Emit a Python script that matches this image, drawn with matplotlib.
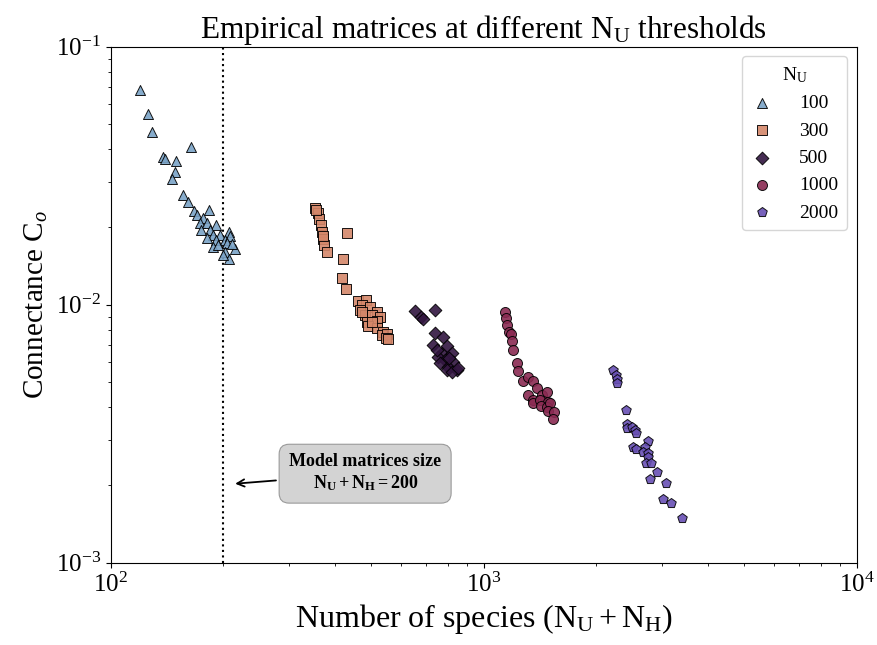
import matplotlib
matplotlib.use("Agg")
import matplotlib.pyplot as plt

plt.rcParams["font.family"] = ["Liberation Serif", "DejaVu Serif"]
plt.rcParams["mathtext.fontset"] = "custom"
plt.rcParams["mathtext.rm"] = "Liberation Serif"
plt.rcParams["mathtext.it"] = "Liberation Serif:italic"
plt.rcParams["mathtext.bf"] = "Liberation Serif:bold"

# N_U = 100
n100 = [120, 126, 129, 138, 140, 150, 164, 149, 146, 156, 161, 167, 170, 183, 177,
        173.5, 181, 192, 175, 185, 188, 196, 207, 181, 192, 202, 209, 188, 205, 215,
        202, 207, 200, 194, 211]
c100 = [0.068, 0.0547, 0.0468, 0.0375, 0.0366, 0.0362, 0.0407, 0.0328, 0.0307, 0.0266,
        0.0250, 0.0231, 0.0223, 0.0233, 0.0216, 0.0207, 0.0207, 0.0204, 0.0195, 0.0195,
        0.0186, 0.0186, 0.0192, 0.0181, 0.0178, 0.0178, 0.0184, 0.0168, 0.0173, 0.0164,
        0.0160, 0.0151, 0.0156, 0.0170, 0.0172]
# N_U = 300
n300 = [353, 360, 362, 366, 368, 370, 373, 379, 431, 419, 416, 427, 461, 483, 471,
        466, 496, 517, 481, 501, 527, 486, 518, 490, 517, 538, 533, 551, 547, 555,
        472, 502, 355, 371]
c300 = [0.0236, 0.0226, 0.0214, 0.0204, 0.0192, 0.0179, 0.0170, 0.0160, 0.0189, 0.0151,
        0.0127, 0.0115, 0.0103, 0.0104, 0.00998, 0.00954, 0.00982, 0.00939, 0.00912,
        0.00912, 0.00898, 0.00859, 0.00867, 0.00827, 0.0081, 0.00786, 0.00763, 0.00768,
        0.00741, 0.00734, 0.00937, 0.00857, 0.0233, 0.0185]
# N_U = 500
n500 = [654, 678, 686, 740, 740, 779, 733, 772, 796, 821, 756, 788, 829, 764, 804,
        847, 796, 821, 855, 750, 807]
c500 = [0.00948, 0.00898, 0.00878, 0.00954, 0.00779, 0.00747, 0.00698, 0.00648, 0.00692,
        0.00648, 0.00629, 0.0061, 0.00601, 0.00593, 0.00575, 0.00558, 0.00558, 0.0055,
        0.00567, 0.00668, 0.00621]
# N_U = 1000
n1000 = [1141, 1146, 1153, 1171, 1182, 1193, 1201, 1231, 1236, 1272, 1312, 1358, 1387,
         1317, 1358, 1353, 1431, 1481, 1416, 1490, 1422, 1475, 1506, 1490, 1544, 1537]
c1000 = [0.00939, 0.00886, 0.00834, 0.00786, 0.0077, 0.00725, 0.00668, 0.00596, 0.00555,
         0.00507, 0.00523, 0.00505, 0.00474, 0.00447, 0.00427, 0.00415, 0.00447, 0.0046,
         0.00427, 0.00421, 0.00405, 0.00402, 0.00415, 0.00388, 0.00385, 0.0036]
# N_U = 2000
n2000 = [2217, 2263, 2281, 2273, 2403, 2417, 2427, 2494, 2545, 2561, 2753, 2509, 2561,
         2707, 2679, 2763, 2763, 2719, 2804, 2909, 2792, 3076, 3030, 3171, 3395]
c2000 = [0.00558, 0.00534, 0.00514, 0.00496, 0.00391, 0.00345, 0.00332, 0.00337, 0.00327,
         0.00318, 0.00297, 0.0028, 0.00276, 0.00282, 0.00269, 0.00267, 0.00256, 0.00244,
         0.00243, 0.00224, 0.00211, 0.00204, 0.00176, 0.0017, 0.00149]

series = [("100", n100, c100, "^", "#7aa3c7"),
          ("300", n300, c300, "s", "#d4876a"),
          ("500", n500, c500, "D", "#321640"),
          ("1000", n1000, c1000, "o", "#8a2a52"),
          ("2000", n2000, c2000, "p", "#6850b4")]

fig = plt.figure(figsize=(8.77, 6.45), dpi=100)
ax = fig.add_axes([0.1262, 0.1276, 0.8507, 0.80])

for lab, x, y, m, col in series:
    ms = 42 if m == "D" else 52
    ax.scatter(x, y, marker=m, s=ms, c=col, edgecolors="black", linewidths=0.7,
               alpha=0.9, label=lab, zorder=3)

ax.axvline(200, color="black", ls=":", lw=1.5, zorder=2)

ax.annotate("Model matrices size\n" + r"$\mathbf{N_U + N_H = 200}$",
            xy=(212, 0.00202), xytext=(481, 0.00222), ha="center", va="center",
            fontsize=13, fontweight="bold",
            bbox=dict(boxstyle="round,pad=0.55", fc="#d3d3d3", ec="#9a9a9a", lw=0.8),
            arrowprops=dict(arrowstyle="->", color="black", lw=1.3))

ax.set_xscale("log")
ax.set_yscale("log")
ax.set_xlim(1e2, 1e4)
ax.set_ylim(1e-3, 1e-1)
ax.tick_params(labelsize=18)
ax.set_xlabel(r"Number of species ($\mathrm{N_U + N_H}$)", fontsize=23)
ax.set_ylabel(r"Connectance $\mathrm{C}_o$", fontsize=21)
ax.set_title(r"Empirical matrices at different $\mathrm{N_U}$ thresholds", fontsize=22.5)

leg = ax.legend(title=r"$\mathrm{N_U}$", loc="upper right", fontsize=14,
                title_fontsize=14, handletextpad=1.3, handlelength=1.2,
                borderpad=0.45, labelspacing=0.5, scatterpoints=1)
leg.get_frame().set_edgecolor("#cccccc")

fig.savefig("out.png", dpi=100)
